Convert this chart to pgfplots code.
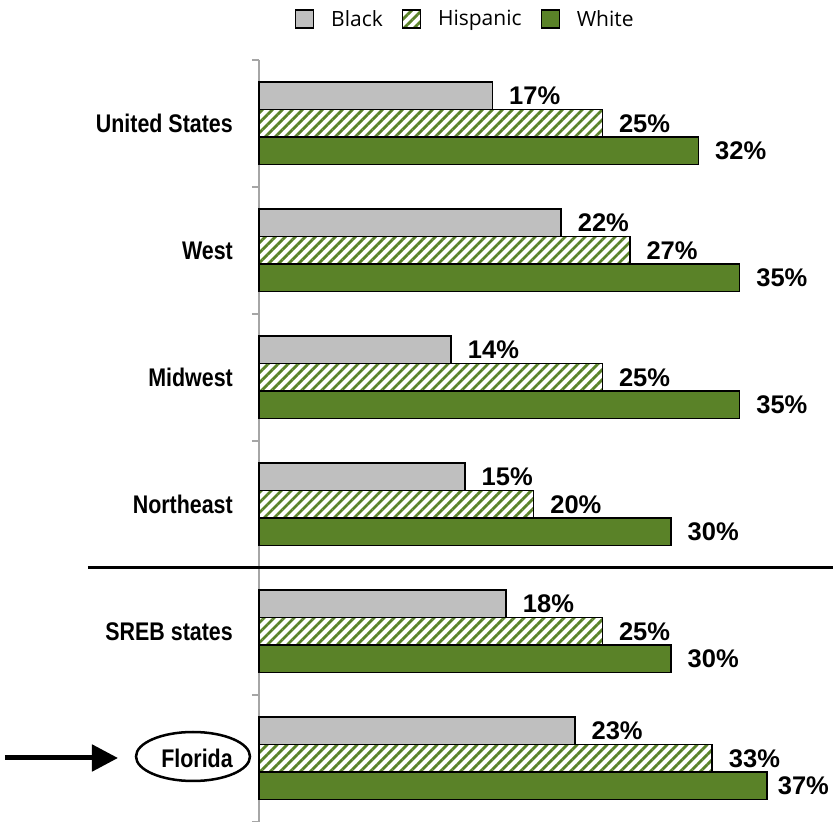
\documentclass[border=0pt]{standalone}
\usepackage{fontspec}
\setmainfont{Liberation Sans}
\newfontfamily\catfont{Liberation Sans}[FakeStretch=0.84]
\newfontfamily\legfont{Open Sans}
\usepackage{pgfplots}
\pgfplotsset{compat=1.18}
\usetikzlibrary{patterns.meta,arrows.meta}

\definecolor{bargray}{RGB}{191,191,191}
\definecolor{bargreen}{RGB}{90,130,40}
\definecolor{axgray}{RGB}{166,166,166}

\begin{document}
\begin{tikzpicture}
\begin{axis}[
  scale only axis, width=574pt, height=762pt,
  at={(0pt,0pt)}, anchor=south west,
  xmin=0, xmax=41.8, ymin=-0.5, ymax=5.5,
  hide x axis, axis y line*=left,
  y axis line style={draw=axgray, line width=2pt},
  ytick={0,...,5},
  yticklabels={,SREB states,Northeast,Midwest,West,United States},
  major tick length=0pt,
  minor ytick={-0.5,0.5,...,5.5},
  minor tick length=7pt, tick align=outside,
  minor tick style={draw=axgray, line width=1.5pt},
  yticklabel style={font=\catfont\bfseries\fontsize{25.5}{30}\selectfont, inner sep=0pt, xshift=-26pt},
  xbar, bar width=27.5pt, clip=false,
  point meta=x,
  nodes near coords={\pgfmathprintnumber[assume math mode=true]{\pgfplotspointmeta}\%},
  every node near coord/.append style={font=\bfseries\fontsize{25.5}{30}\selectfont, text=black, anchor=west, inner sep=0pt},
  legend style={at={(axis description cs:0.0627,1.0538)}, anchor=west, draw=none,
    inner sep=0pt, outer sep=0pt, font=\legfont\fontsize{21}{25}\selectfont,
    nodes={inner sep=0pt},
    /tikz/every odd column/.append style={column sep=17pt},
    /tikz/every even column/.append style={column sep=19pt}},
  legend columns=-1,
  legend image code/.code={\draw[#1, line width=1.2pt] (0pt,-9pt) rectangle (18pt,9pt);},
]
% Black
\addplot[draw=black, line width=1.5pt, fill=bargray, bar shift=27.5pt,
  every node near coord/.append style={xshift=16pt}]
  coordinates {(17,5) (22,4) (14,3) (15,2) (18,1) (23,0)};
% Hispanic
\addplot[draw=black, line width=1.5pt, bar shift=0pt,
  pattern={Lines[angle=45,distance=7.07pt,line width=2.8pt]}, pattern color=bargreen,
  every node near coord/.append style={xshift=16pt}]
  coordinates {(25,5) (27,4) (25,3) (20,2) (25,1) (33,0)};
% White
\addplot[draw=black, line width=1.5pt, fill=bargreen, bar shift=-27.5pt,
  visualization depends on={y \as \rawy},
  every node near coord/.append style={xshift={ifthenelse(\rawy<0.5,10,16)}}]
  coordinates {(32,5) (35,4) (35,3) (30,2) (30,1) (37,0)};
\legend{Black,Hispanic,White}
\end{axis}
\draw[line width=3pt] (-171pt,254pt) -- (574pt,254pt);
\draw[line width=2.5pt] (-66pt,65.5pt) ellipse [x radius=57pt, y radius=24.5pt];
\node[font=\catfont\bfseries\fontsize{25.5}{30}\selectfont, inner sep=0pt] at (-62pt,64pt) {Florida};
\draw[line width=5pt, -{Triangle[length=26pt,width=26pt]}] (-254pt,64pt) -- (-141pt,64pt);
\pgfresetboundingbox
\useasboundingbox (-259pt,0pt) rectangle (574pt,822pt);
\end{tikzpicture}
\end{document}
